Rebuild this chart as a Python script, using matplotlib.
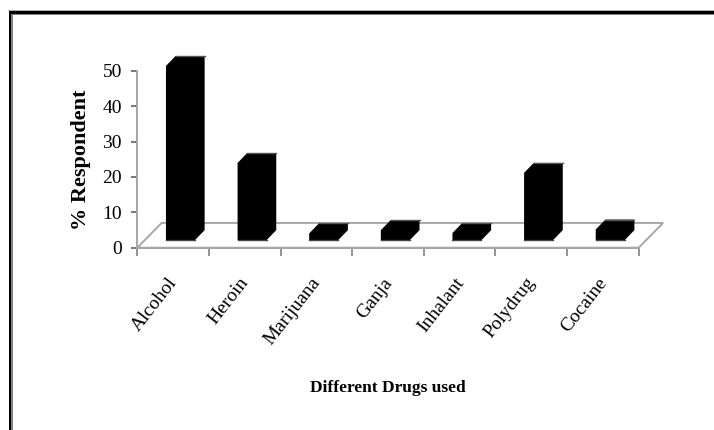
import matplotlib
matplotlib.use('Agg')
import matplotlib.pyplot as plt
from matplotlib.patches import Polygon, Rectangle

# Data
drugs = ['Alcohol', 'Heroin', 'Marijuana', 'Ganja', 'Inhalant', 'Polydrug', 'Cocaine']
percent = [49.2, 21.8, 1.9, 2.8, 2, 19, 3]
yticks = [0, 10, 20, 30, 40, 50]

W, H = 714, 430
fig = plt.figure(figsize=(W / 100, H / 100), dpi=100, facecolor='white')
plt.rcParams['font.family'] = ['Liberation Serif', 'DejaVu Serif']


def frame_bar(x, y, w, h, color):
    # rectangle given in image pixels, y going down
    fig.add_artist(Rectangle((x / W, 1 - (y + h) / H), w / W, h / H, transform=fig.transFigure,
                             fc=color, ec='none'))


# outer frame, only top and left are in the picture
frame_bar(8, 10, W - 8, 1, '#b0b0b0')
frame_bar(9, 11, W - 9, 3, 'black')
frame_bar(11, 14, W - 11, 1, '#808080')
frame_bar(9, 11, 2, H - 11, 'black')
frame_bar(11, 14, 2, H - 14, '#808080')

# axes placed so 0-50 runs from y=247.7 to y=70.7 px
ax = fig.add_axes([137.3 / W, 1 - 247.7 / H, (638.7 - 137.3) / W, (247.7 - 50) / H])
ax.set_xlim(0, 7)
ax.set_ylim(0, (247.7 - 50) / 3.54)
ax.patch.set_alpha(0)

grey = '#a6a6a6'
# floor of the 3d chart
floor_dx, floor_dy = 0.34, 7.0
ax.add_patch(Polygon([(0, 0), (7, 0), (7 + floor_dx, floor_dy), (floor_dx, floor_dy)],
                     closed=True, fill=False, ec=grey, lw=1.4, clip_on=False))

# bars: front face plus oblique top and side
bar_x, bar_w, bar_base = 0.40, 0.405, 2.15
depth_dx, depth_dy = 0.135, 2.8
for i, v in enumerate(percent):
    x0 = i + bar_x
    x1 = x0 + bar_w
    y0 = bar_base
    y1 = bar_base + v
    ax.add_patch(Polygon([(x0, y0), (x1, y0), (x1 + depth_dx, y0 + depth_dy), (x1 + depth_dx, y1 + depth_dy),
                          (x0 + depth_dx, y1 + depth_dy), (x0, y1)],
                         closed=True, fc='black', ec='none', clip_on=False, zorder=3))
    ax.plot([x0 + depth_dx, x1 + depth_dx], [y1 + depth_dy, y1 + depth_dy], color='#555555', lw=1,
            clip_on=False, zorder=4)
    ax.plot([x0, x1], [y0, y0], color='#444444', lw=1, clip_on=False, zorder=4)

for s in ['top', 'right']:
    ax.spines[s].set_visible(False)
for s in ['left', 'bottom']:
    ax.spines[s].set_color(grey)
    ax.spines[s].set_linewidth(1.4)
ax.spines['left'].set_bounds(0, 50)

ax.set_yticks(yticks)
ax.set_yticklabels([str(t) for t in yticks], fontsize=14)
ax.tick_params(axis='y', length=4, width=1.2, color='#606060', pad=7)
ax.set_xticks(range(8))
ax.set_xticklabels([])
ax.tick_params(axis='x', length=5.4, width=1.2, color='#808080')

# category labels, anchored at their upper right end
for i, name in enumerate(drugs):
    ax.annotate(name, (i + 0.5, 0), xytext=(1, -32), textcoords='offset pixels', xycoords='data',
                rotation=52, rotation_mode='anchor', ha='right', va='center', fontsize=14)

fig.text(81 / W, 1 - 160 / H, '% Respondent', rotation=90, ha='center', va='center',
         fontsize=16, fontweight='bold')
fig.text(388 / W, 1 - 388 / H, 'Different Drugs used', ha='center', va='center',
         fontsize=12.5, fontweight='bold')

fig.savefig('out.png', dpi=100)
